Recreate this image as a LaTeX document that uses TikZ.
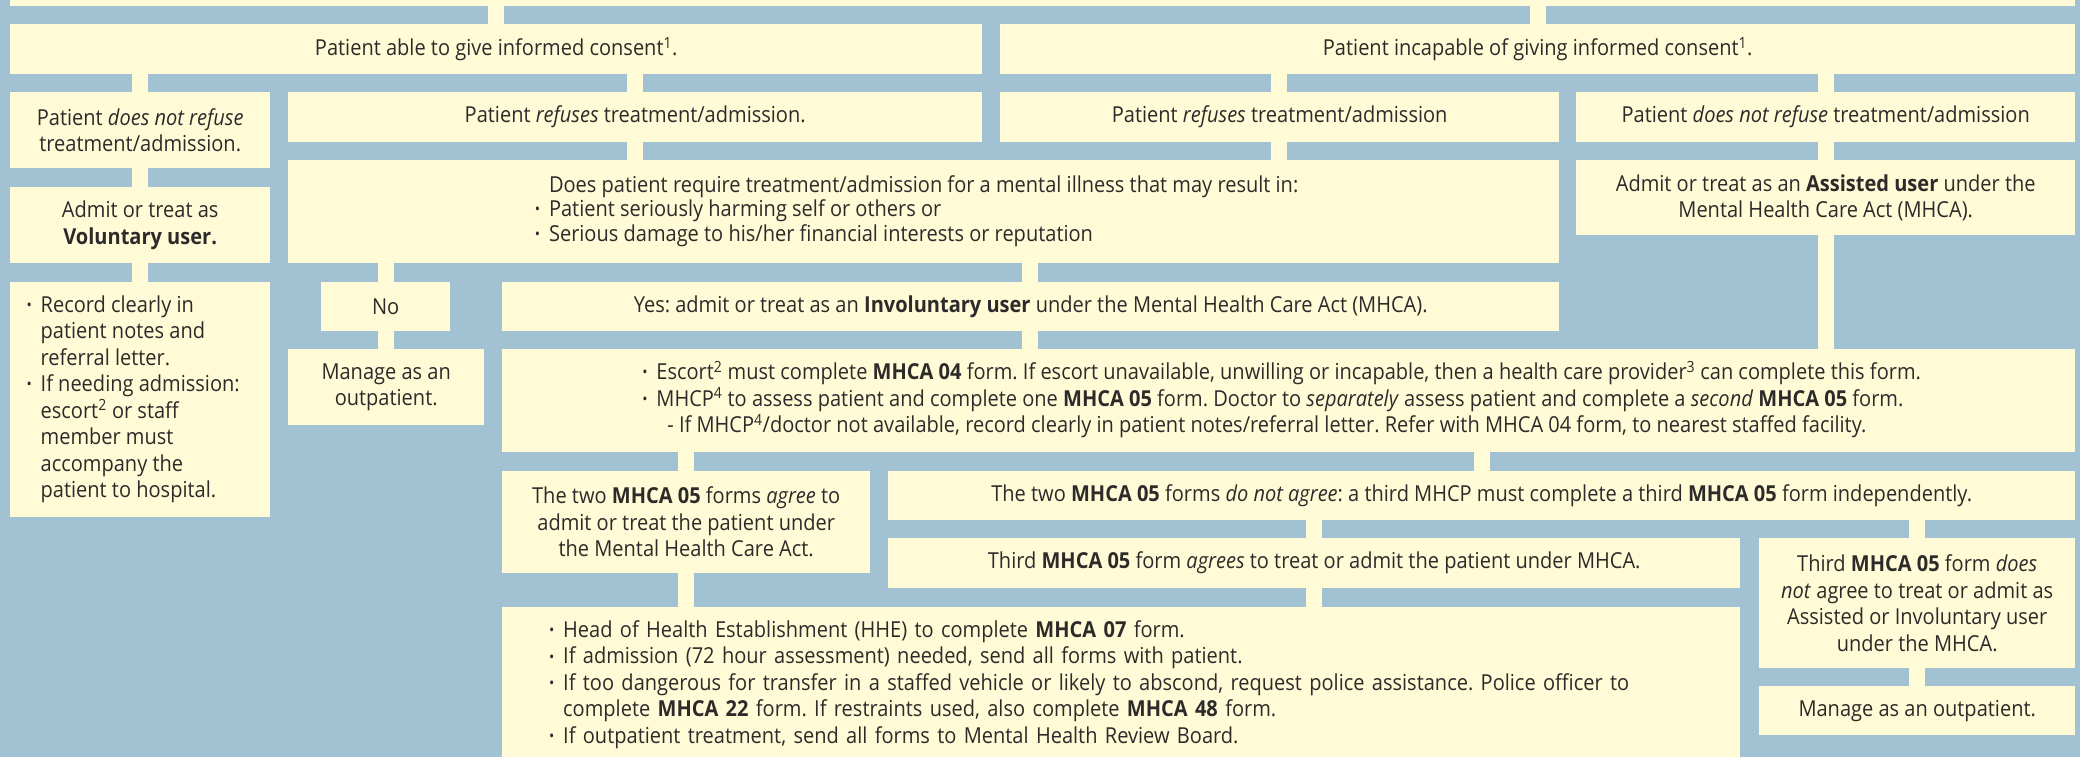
\documentclass[tikz,border=0pt]{standalone}
\usepackage{fontspec}
\setmainfont{Open Sans}[FakeStretch=0.91]
\definecolor{flowblue}{RGB}{162,193,211}
\definecolor{flowyellow}{RGB}{255,251,215}
\definecolor{flowtext}{RGB}{45,42,42}
\newcommand{\sups}[1]{\textsuperscript{#1}}
\newcommand{\bul}{\leavevmode\llap{\raisebox{0.15ex}{\scalebox{0.7}{\textbullet}}\hspace{0.4em}}}
\newcommand{\mhca}[1]{\textbf{MHCA #1}}
\frenchspacing

\begin{document}
\begin{tikzpicture}[x=1pt, y=-1pt,
  box/.style={fill=flowyellow, anchor=north west, inner sep=0pt, align=center,
    text=flowtext, font=\fontsize{22}{26.5}\selectfont\frenchspacing},
  link/.style={draw=flowyellow, line width=16pt}]

\useasboundingbox (0,0) rectangle (2080,757);
\clip (0,0) rectangle (2080,757);
\fill[flowblue] (0,0) rectangle (2080,757);

% --- Consent ---
\node[box, minimum width=2065, minimum height=60] (head) at (10,-54) {};
\node[box, minimum width=972, minimum height=50] (able) at (10,24)
  {Patient able to give informed consent\sups{1}.};
\node[box, minimum width=1075, minimum height=50] (incap) at (1000,24)
  {Patient incapable of giving informed consent\sups{1}.};

% --- Refuses / does not refuse ---
\node[box, minimum width=260, minimum height=76] (ndrA) at (10,92)
  {Patient \textit{does not refuse}\\treatment/admission.};
\node[box, minimum width=694, minimum height=50] (refA) at (288,92)
  {Patient \textit{refuses} treatment/admission.};
\node[box, minimum width=559, minimum height=50] (refB) at (1000,92)
  {Patient \textit{refuses} treatment/admission};
\node[box, minimum width=499, minimum height=50] (ndrB) at (1576,92)
  {Patient \textit{does not refuse} treatment/admission};

% --- User type ---
\node[box, minimum width=260, minimum height=76] (vol) at (10,187)
  {Admit or treat as\\\textbf{Voluntary user.}};
\node[box, minimum width=1271, minimum height=103,
      font=\fontsize{22}{24.5}\selectfont\frenchspacing] (req) at (288,160)
  {\begin{tabular}{@{}l@{}}
   Does patient require treatment/admission for a mental illness that may result in:\\
   \bul Patient seriously harming self or others or\\
   \bul Serious damage to his/her financial interests or reputation
   \end{tabular}};
\node[box, minimum width=499, minimum height=75] (assist) at (1576,160)
  {Admit or treat as an \textbf{Assisted user} under the\\Mental Health Care Act (MHCA).};

% --- Voluntary / No / Yes ---
\node[box, minimum width=260, minimum height=235] (rec) at (10,282)
  {\begin{tabular}{@{}l@{}}
   \bul Record clearly in\\patient notes and\\referral letter.\\
   \bul If needing admission:\\escort\sups{2} or staff\\member must\\accompany the\\patient to hospital.
   \end{tabular}};
\node[box, minimum width=129, minimum height=49] (no) at (321,282) {No};
\node[box, minimum width=1057, minimum height=49] (yes) at (502,282)
  {Yes: admit or treat as an \textbf{Involuntary user} under the Mental Health Care Act (MHCA).};
\node[box, minimum width=196, minimum height=76] (manA) at (288,349)
  {Manage as an\\outpatient.};
\node[box, minimum width=1573, minimum height=103] (escort) at (502,349)
  {\begin{tabular}{@{}l@{}}
   \bul Escort\sups{2} must complete \mhca{04} form. If escort unavailable, unwilling or incapable, then a health care provider\sups{3} can complete this form.\\
   \bul MHCP\sups{4} to assess patient and complete one \mhca{05} form. Doctor to \textit{separately} assess patient and complete a \textit{second} \mhca{05} form.\\
   \hspace{0.5em}- If MHCP\sups{4}/doctor not available, record clearly in patient notes/referral letter. Refer with MHCA 04 form, to nearest staffed facility.
   \end{tabular}};

% --- MHCA 05 outcomes ---
\node[box, minimum width=368, minimum height=102] (agree) at (502,471)
  {The two \mhca{05} forms \textit{agree} to\\admit or treat the patient under\\the Mental Health Care Act.};
\node[box, minimum width=1187, minimum height=49] (disagree) at (888,471)
  {The two \mhca{05} forms \textit{do not agree}: a third MHCP must complete a third \mhca{05} form independently.};
\node[box, minimum width=852, minimum height=50] (third) at (888,538)
  {Third \mhca{05} form \textit{agrees} to treat or admit the patient under MHCA.};
\node[box, minimum width=316, minimum height=130] (thirdno) at (1759,538)
  {Third \mhca{05} form \textit{does}\\\textit{not} agree to treat or admit as\\Assisted or Involuntary user\\under the MHCA.};
\node[box, minimum width=1238, minimum height=155, text width=1238, align=left] (hhe) at (502,607)
  {\leftskip=61pt
   \bul Head of Health Establishment (HHE) to complete \mhca{07} form.\\
   \bul If admission (72 hour assessment) needed, send all forms with patient.\\
   \bul If too dangerous for transfer in a staffed vehicle or likely to abscond, request police assistance. Police officer to\\
   complete \mhca{22} form. If restraints used, also complete \mhca{48} form.\\
   \bul If outpatient treatment, send all forms to Mental Health Review Board.\par};
\node[box, minimum width=316, minimum height=49] (manB) at (1759,686)
  {Manage as an outpatient.};

% --- Links ---
\draw[link] (head.south -| 496,0) -- (able.north -| 496,0);
\draw[link] (head.south -| 1538,0) -- (incap.north -| 1538,0);
\draw[link] (able.south -| 140,0) -- (ndrA.north -| 140,0);
\draw[link] (able.south -| 635,0) -- (refA.north -| 635,0);
\draw[link] (incap.south -| 1279,0) -- (refB.north -| 1279,0);
\draw[link] (incap.south -| 1826,0) -- (ndrB.north -| 1826,0);
\draw[link] (ndrA.south -| 140,0) -- (vol.north -| 140,0);
\draw[link] (refA.south -| 635,0) -- (req.north -| 635,0);
\draw[link] (refB.south -| 1279,0) -- (req.north -| 1279,0);
\draw[link] (ndrB.south -| 1826,0) -- (assist.north -| 1826,0);
\draw[link] (vol.south -| 140,0) -- (rec.north -| 140,0);
\draw[link] (req.south -| 386,0) -- (no.north -| 386,0);
\draw[link] (req.south -| 1030,0) -- (yes.north -| 1030,0);
\draw[link] (no.south -| 386,0) -- (manA.north -| 386,0);
\draw[link] (yes.south -| 1030,0) -- (escort.north -| 1030,0);
\draw[link] (assist.south -| 1826,0) -- (escort.north -| 1826,0);
\draw[link] (escort.south -| 686,0) -- (agree.north -| 686,0);
\draw[link] (escort.south -| 1482,0) -- (disagree.north -| 1482,0);
\draw[link] (agree.south -| 686,0) -- (hhe.north -| 686,0);
\draw[link] (disagree.south -| 1314,0) -- (third.north -| 1314,0);
\draw[link] (disagree.south -| 1917,0) -- (thirdno.north -| 1917,0);
\draw[link] (third.south -| 1314,0) -- (hhe.north -| 1314,0);
\draw[link] (thirdno.south -| 1917,0) -- (manB.north -| 1917,0);

\end{tikzpicture}
\end{document}
